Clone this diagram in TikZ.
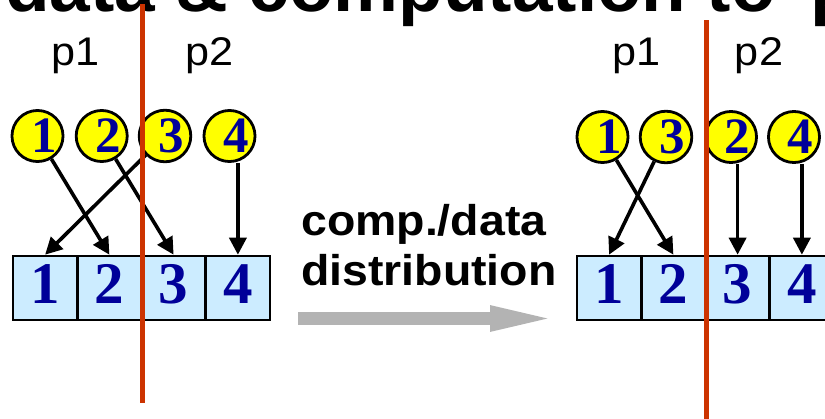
\documentclass[tikz,border=0pt]{standalone}
\usepackage{fontspec}
\setmainfont{Liberation Sans}
\newfontfamily\numfont{Liberation Serif}
\newfontfamily\widefont[FakeStretch=1.08]{Liberation Sans}
\usetikzlibrary{arrows.meta}
\definecolor{cellblue}{RGB}{204,236,255}
\definecolor{numblue}{RGB}{0,0,153}
\definecolor{cutred}{RGB}{204,51,0}
\definecolor{arrowgray}{RGB}{179,179,179}
\definecolor{ballyellow}{RGB}{255,255,0}
\begin{document}
\begin{tikzpicture}[x=1pt,y=-1pt,
  cell/.style={draw=black, line width=2.6pt, fill=cellblue,
    minimum width=64.25pt, minimum height=64pt, inner sep=0pt, text depth=8pt,
    font=\numfont\bfseries\fontsize{59}{59}\selectfont, text=numblue},
  ball/.style={circle, draw=black, line width=2.8pt, fill=ballyellow,
    minimum size=45.5pt, inner sep=0pt,
    execute at begin node={\hspace*{13pt}},
    font=\numfont\bfseries\fontsize{51}{51}\selectfont, text=numblue},
  link/.style={draw=black, line width=3.6pt, -{Triangle[length=17pt,width=17pt]}},
  plabel/.style={font=\widefont\fontsize{40}{40}\selectfont, anchor=base, inner sep=0pt},
  caption/.style={font=\widefont\bfseries\fontsize{43}{43}\selectfont, anchor=base west, inner sep=0pt},
  cut/.style={draw=cutred, line width=5pt}]

\useasboundingbox (0,0) rectangle (825,418);
\clip (0,0) rectangle (825,418);

% heading, running off the top edge
\node[anchor=base west, inner sep=0pt, font=\bfseries\fontsize{73}{73}\selectfont]
  (title) at (5,11) {data \& computation to\hspace{14pt} p};

% processor labels
\node[plabel] (lp1) at (75.5,65) {p1};
\node[plabel] (lp2) at (210,65) {p2};
\node[plabel] (rp1) at (637,65) {p1};
\node[plabel] (rp2) at (759,65) {p2};

% left: array cells
\node[cell] (a1) at (45.1,288) {1};
\node[cell] (a2) at (109.4,288) {2};
\node[cell] (a3) at (173.6,288) {3};
\node[cell] (a4) at (237.9,288) {4};

% left: computations
\node[ball] (b1) at (37.5,136) {1};
\node[ball] (b2) at (101.7,136) {2};
\node[ball] (b3) at (165,136) {3};
\node[ball] (b4) at (229.5,136) {4};

\draw[link] (b1) -- (a2.north);
\draw[link] (b2) -- (a3.north);
\draw[link] (b3) -- (a1.north);
\draw[link] (b4.south -| a4.north) -- (a4.north);

% right: array cells
\node[cell] (e1) at (609.1,288) {1};
\node[cell] (e2) at (673.4,288) {2};
\node[cell] (e3) at (737.6,288) {3};
\node[cell] (e4) at (801.9,288) {4};

% right: computations after redistribution
\node[ball] (d1) at (602.5,137) {1};
\node[ball] (d3) at (666,137) {3};
\node[ball] (d2) at (731,137) {2};
\node[ball] (d4) at (794,137) {4};

\draw[link] (d1) -- (e2.north);
\draw[link] (d3) -- (e1.north);
\draw[link] (d2.south -| e3.north) -- (e3.north);
\draw[link] (d4.south -| e4.north) -- (e4.north);

% caption and transition arrow
\node[caption] (capA) at (301,235) {comp./data};
\node[caption] (capB) at (301,285) {distribution};
\coordinate (gs) at (298,318.5);
\coordinate (ge) at (562,318.5);
\draw[line width=13pt, arrowgray, -{Triangle[length=72pt,width=22pt]}] (gs) -- (ge);

% processor boundaries
\coordinate (lt) at (142,4);
\coordinate (lb) at (142,403);
\coordinate (rt) at (706,20);
\coordinate (rb) at (706,425);
\draw[cut] (lt) -- (lb);
\draw[cut] (rt) -- (rb);
\end{tikzpicture}
\end{document}
